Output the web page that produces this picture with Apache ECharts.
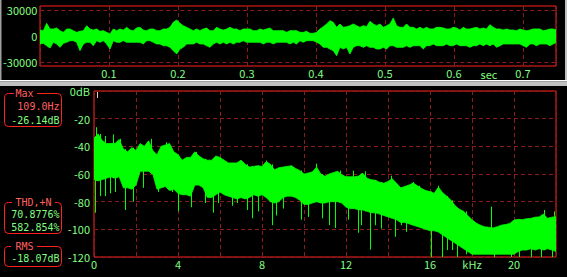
<!DOCTYPE html>
<html><head><meta charset="utf-8">
<script src="https://cdn.jsdelivr.net/npm/echarts@6/dist/echarts.min.js"></script>
<style>html,body{margin:0;padding:0;background:#000;}#c{width:567px;height:277px;}</style>
</head><body><div id="c"></div>
<script>
// ---------- waveform (top panel), sample spacing in seconds ----------
const waveDt = 0.00483;
const waveTop = [
6900,6200,14600,8100,8100,9200,6200,4200,8100,8100,
6200,4200,5400,6200,11900,8100,6900,8100,5400,6200,
4200,2300,8100,6200,8100,6900,10000,6900,6200,9200,
10000,6900,6200,8100,8100,6200,6200,8100,8100,10000,
15800,18500,14600,11900,10000,8100,6200,8100,6200,8100,
9200,6200,6200,10000,8100,6900,8100,10000,8100,8100,
6200,8100,8100,8100,6200,6200,8100,6900,8100,9200,
6200,6200,6200,6200,4200,6200,6200,6200,
4200,4200,5400,3100,3100,4200,8100,10800,13900,17700,
15800,10000,13900,10000,10800,11900,13900,11900,10000,11900,
10800,16900,13900,11900,13900,10000,11900,13900,20800,11900,
10000,10000,13900,10000,10000,8100,10000,8100,10000,8100,
8100,10000,10000,9200,8100,8100,10000,9200,6900,10000,
8100,8100,9200,10000,8100,9200,8100,13100,10000,8100,
8100,6900,8100,6900,6900,6200,8100,6900,6200,6900,
8100,8100,8100,6200,6900,8100,8100,6900];
const waveBot = [
-9200,-8500,-11200,-13900,-7300,-9200,-13100,-8500,-7300,-5400,
-5400,-7300,-16900,-9200,-7300,-7300,-11200,-5400,-7300,-5400,
-9200,-15000,-5400,-7300,-7300,-5400,-7300,-7300,-7300,-7300,
-7300,-9200,-5400,-5400,-7300,-9200,-9200,-11200,-11200,-13100,
-16900,-20800,-15000,-13100,-9200,-9200,-9200,-7300,-9200,-9200,
-11200,-13100,-9200,-7300,-9200,-7300,-9200,-7300,-9200,-7300,
-7300,-5400,-7300,-7300,-7300,-7300,-7300,-9200,-7300,-7300,
-9200,-7300,-7300,-7300,-7300,-9200,-7300,-9200,
-5400,-7300,-5400,-5400,-5400,-7300,-9200,-13100,-13100,-15000,
-16900,-22700,-13100,-15000,-13100,-20800,-13100,-11200,-11200,-13100,
-11200,-13100,-13100,-15000,-15000,-13100,-15000,-11200,-11200,-13100,
-13100,-13100,-11200,-13100,-11200,-11200,-11200,-15000,-11200,-11200,
-9200,-11200,-11200,-11200,-9200,-11200,-11200,-9200,-11200,-11200,
-11200,-13100,-11200,-11200,-9200,-11200,-9200,-11200,-9200,-13100,
-11200,-9200,-9200,-9200,-9200,-9200,-9200,-11200,-13100,-9200,
-9200,-11200,-9200,-9200,-9200,-11200,-9200,-7300];
const waveYLabels = [-30000, 0, 30000];
const waveXTicks = [0.1, 0.2, 0.3, 0.4, 0.5, 0.6, 0.7];

// ---------- spectrum (bottom panel), kHz step ----------
const specStep = 0.2;
const specTop = [
-34,-31,-36,-38,-38,-38,-35,-42,-44,-41,
-43,-38,-40,-36,-43,-46,-40,-39,-38,-44,
-46,-50,-48,-48,-44,-47,-49,-50,-50,-47,
-48,-50,-52,-52,-52,-50,-53,-55,-54.5,-54,
-54.5,-51,-53,-57,-55.5,-55,-54.5,-54,-56,-57.5,
-60,-59.3,-58.5,-55,-60,-61.7,-60,-59,-58,-60.5,
-62,-62,-62,-61.5,-59.5,-63,-64.2,-64.5,-66,-66.6,
-65.4,-63.5,-66.5,-70,-69,-68,-66.5,-68.5,-70.5,-72,
-72.7,-74,-69.5,-73.5,-76,-79,-83,-85.5,-87,-90,
-93,-95.5,-97,-98.2,-98.5,-99,-98.1,-97,-96.5,-95.8,
-93.3,-92.8,-93,-92.3,-92.1,-91.2,-91,-89,-92,-91.2,
-90.9];
const specBot = [
-64,-65,-64,-63,-62,-63,-62,-70,-70,-71,
-68,-58,-58,-58,-60,-71,-70,-69,-72,-71,
-74,-75,-75,-76,-68,-68,-70,-77,-77,-75,
-73,-75,-76,-77,-78,-77,-78,-77,-75,-76,
-75,-77,-80,-81,-80,-77,-76,-76,-77,-79,
-82,-82,-81,-80,-81,-81,-80,-80,-80,-81,
-84,-85,-85,-86,-86,-87,-88,-88,-89,-90,
-91,-92,-93,-95,-95,-96,-97,-98,-99,-100,
-101,-101,-102,-104,-106,-108,-110,-112,-114,-116,
-118,-118,-118,-118,-118,-118,-118,-118,-118,-118,
-118,-116,-115,-115,-114,-115,-114,-115,-114,-115,
-116];
const specPeaks = [[0.109,-26.14],[0.5,-32.5],[0.9,-31.4],[1.25,-34.6],[2.7,-34.6],[3.45,-37],[4.85,-44],
[8.21,-50.3],[10.59,-52.5],[11.7,-57.6],[12.33,-57.6],[12.9,-58],[14.13,-61.3],[15.21,-65.9],[16.38,-68.5],
[18.92,-83.6],[21.43,-86],[21.9,-87]];
const specDips = [[0.05,-88],[0.28,-76],[0.52,-76],[0.76,-74],[1.0,-73],[1.48,-86],[1.87,-80],[2.35,-70],
[3.06,-73],[3.7,-73],[4.02,-87],[4.62,-84],[5.29,-81],[5.68,-88],[5.92,-81],[6.56,-83],[6.83,-81],[7.27,-86],
[7.52,-92],[7.81,-87],[8.48,-97],[8.67,-90],[9.0,-85],[9.87,-93],[10.19,-91],[10.86,-92],[11.19,-97],
[11.49,-99],[12.1,-93],[12.57,-102.5],[12.73,-97],[13.13,-114.7],[13.37,-97],[13.68,-99.4],[14.32,-105.4],
[14.63,-97],[14.87,-98],[14.84,-101.8],[15.16,-93],[15.48,-97],[16.03,-120],[16.59,-120],[16.79,-115],
[17.06,-115],[17.3,-120],[17.7,-118],[19.05,-120],[19.84,-120],[20.24,-120],[20.79,-120],[21.27,-120],[21.83,-120]];
const specXLabels = {0:'0', 4:'4', 8:'8', 12:'12', 16:'16', 18:'kHz', 20:'20'};

// ---------- readouts ----------
const maxFreq = '109.0Hz', maxLevel = '-26.14dB';
const thd1 = '70.8776%', thd2 = '582.854%';
const rmsLevel = '-18.07dB';

const GREEN = '#00ff00', LGREEN = '#80ff80', RED = '#ff2020', DRED = '#8c1c1c', TRED = '#ff6060';
const AFONT = "'Noto Sans CJK JP', 'DejaVu Sans Mono', monospace";
const BFONT = "'DejaVu Sans Mono', monospace";
const FS = 11;

function band(xi, yi, xs, tops, bots) {
  const data = tops.map((t, i) => [xs(i), t, bots[i]]);
  return {
    type: 'custom', xAxisIndex: xi, yAxisIndex: yi, clip: true, silent: true, z: 3,
    data, encode: { x: 0, y: [1, 2] },
    renderItem(params, api) {
      if (params.dataIndex !== 0) return null;
      const pts = [];
      for (let i = 0; i < data.length; i++) pts.push(api.coord([data[i][0], data[i][1]]));
      for (let i = data.length - 1; i >= 0; i--) pts.push(api.coord([data[i][0], data[i][2]]));
      return { type: 'polygon', shape: { points: pts }, style: { fill: GREEN, stroke: GREEN, lineWidth: 0.8 } };
    }
  };
}
function spikes(xi, yi, list, refArr) {
  const data = list.map(([f, v]) => [f, v, refArr[Math.min(refArr.length - 1, Math.round(f / specStep))]]);
  return {
    type: 'custom', xAxisIndex: xi, yAxisIndex: yi, clip: true, silent: true, z: 4,
    data, encode: { x: 0, y: [1, 2] },
    renderItem(params, api) {
      const p1 = api.coord([api.value(0), api.value(1)]), p2 = api.coord([api.value(0), api.value(2)]);
      const x = Math.round(p1[0]) + 0.5;
      return { type: 'line', shape: { x1: x, y1: p1[1], x2: x, y2: p2[1] }, style: { stroke: GREEN, lineWidth: 1 } };
    }
  };
}

const labelStyle = { color: LGREEN, fontFamily: AFONT, fontSize: FS };
const dashed = { color: DRED, type: [4, 3], width: 1 };
function boxText(x, y, text, color, align) {
  return { type: 'text', x, y, z: 102, style: { text, fill: color, fontFamily: BFONT, fontSize: 10, align, verticalAlign: 'middle' } };
}

const chart = echarts.init(document.getElementById('c'), null, { renderer: 'svg', width: 567, height: 277 });
chart.setOption({
  backgroundColor: '#000',
  animation: false,
  grid: [
    { left: 40, top: 6, width: 516, height: 60, show: true, borderColor: RED, borderWidth: 1, backgroundColor: 'transparent' },
    { left: 40, top: 10, width: 516, height: 52, show: false },
    { left: 94, top: 91, width: 462, height: 166, show: true, borderColor: RED, borderWidth: 1, backgroundColor: 'transparent' }
  ],
  xAxis: [
    { gridIndex: 0, type: 'value', min: 0, max: 516 / 690, interval: 0.1,
      axisLine: { show: false }, axisTick: { show: false },
      axisLabel: Object.assign({ margin: 1, showMaxLabel: false, formatter: v => waveXTicks.some(t => Math.abs(t - v) < 1e-6) ? v.toFixed(1) : '' }, labelStyle),
      splitLine: { show: true, lineStyle: dashed } },
    { gridIndex: 1, type: 'value', min: 0, max: 1, show: false },
    { gridIndex: 2, type: 'value', min: 0, max: 22, interval: 2,
      axisLine: { show: false }, axisTick: { show: false },
      axisLabel: Object.assign({ margin: 1, formatter: v => specXLabels[Math.round(v)] || '' }, labelStyle),
      splitLine: { show: true, lineStyle: dashed } }
  ],
  yAxis: [
    { gridIndex: 0, type: 'value', min: -34615, max: 34615, show: false },
    { gridIndex: 1, type: 'value', min: waveYLabels[0], max: waveYLabels[2], interval: 30000,
      axisLine: { show: false }, axisTick: { show: false },
      axisLabel: Object.assign({ margin: 3, formatter: v => String(v) }, labelStyle),
      splitLine: { show: true, lineStyle: { color: [DRED, 'rgba(0,0,0,0)', DRED], type: [4, 3], width: 1 } } },
    { gridIndex: 2, type: 'value', min: -120, max: 0, interval: 20,
      axisLine: { show: false }, axisTick: { show: false },
      axisLabel: Object.assign({ margin: 4, formatter: v => v === 0 ? '0dB' : String(v) }, labelStyle),
      splitLine: { show: true, lineStyle: dashed } }
  ],
  series: [
    band(0, 0, i => i * waveDt, waveTop, waveBot),
    band(2, 2, i => i * specStep, specTop, specBot),
    spikes(2, 2, specPeaks, specBot),
    spikes(2, 2, specDips, specTop)
  ],
  graphic: [
    { type: 'rect', shape: { x: 0, y: 80, width: 567, height: 1.5 }, style: { fill: '#ffffff' }, z: 100 },
    { type: 'rect', shape: { x: 0, y: 81.5, width: 567, height: 4.5 }, style: { fill: '#c0c0c0' }, z: 100 },
    { type: 'rect', shape: { x: 0, y: 0, width: 1.5, height: 80 }, style: { fill: '#a0a0a0' }, z: 100 },
    { type: 'rect', shape: { x: 565, y: 0, width: 2, height: 80 }, style: { fill: '#c0c0c0' }, z: 100 },
    { type: 'text', x: 489, y: 73.5, z: 100, style: { text: 'sec', fill: LGREEN, fontFamily: AFONT, fontSize: FS, align: 'center', verticalAlign: 'middle' } },
    { type: 'line', shape: { x1: 97.5, y1: 92, x2: 97.5, y2: 98 }, style: { stroke: '#ffc0c0', lineWidth: 1 }, z: 100 },
    // Max box
    { type: 'rect', shape: { x: 4.5, y: 93.5, width: 57, height: 33, r: 4 }, style: { fill: '#000', stroke: RED, lineWidth: 1 }, z: 100 },
    { type: 'rect', shape: { x: 14, y: 89, width: 23, height: 9 }, style: { fill: '#000' }, z: 101 },
    boxText(24.5, 93, 'Max', TRED, 'center'),
    boxText(59.5, 106, maxFreq, TRED, 'right'),
    boxText(59.5, 120, maxLevel, LGREEN, 'right'),
    // THD box
    { type: 'rect', shape: { x: 4.5, y: 202.5, width: 57, height: 31, r: 4 }, style: { fill: '#000', stroke: RED, lineWidth: 1 }, z: 100 },
    { type: 'rect', shape: { x: 12, y: 198, width: 43, height: 9 }, style: { fill: '#000' }, z: 101 },
    boxText(33.5, 202, 'THD,+N', TRED, 'center'),
    boxText(59.5, 214.5, thd1, LGREEN, 'right'),
    boxText(59.5, 227.5, thd2, LGREEN, 'right'),
    // RMS box
    { type: 'rect', shape: { x: 4.5, y: 246.5, width: 57, height: 20, r: 4 }, style: { fill: '#000', stroke: RED, lineWidth: 1 }, z: 100 },
    { type: 'rect', shape: { x: 11, y: 242, width: 26, height: 9 }, style: { fill: '#000' }, z: 101 },
    boxText(24.5, 246, 'RMS', TRED, 'center'),
    boxText(59.5, 258.5, rmsLevel, LGREEN, 'right')
  ]
});
</script></body></html>
